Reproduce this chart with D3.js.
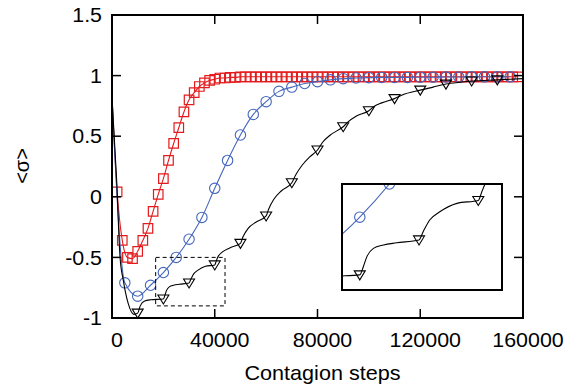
<!DOCTYPE html>
<html>
<head>
<meta charset="utf-8">
<script src="https://cdn.jsdelivr.net/npm/d3@7"></script>
<style>
  body { margin: 0; background: #fff; }
  text { font-family: "Liberation Sans", Arial, Helvetica, sans-serif; }
</style>
</head>
<body>
<div id="chart"></div>
<script>
// data
var xTicks = [0, 40000, 80000, 120000, 160000];
var yTicks = [-1, -0.5, 0, 0.5, 1, 1.5];
var startValue = 0.82; // all curves start here at step 0

// red squares, every 2000 steps
var redSteps = d3.range(2000, 160000, 2000);
var redValues = [
  0.04, -0.36, -0.50, -0.51, -0.45, -0.36, -0.26, -0.12, 0.02, 0.15,
  0.30, 0.44, 0.57, 0.70, 0.80, 0.86, 0.91, 0.94, 0.96, 0.97,
  0.98, 0.98, 0.985, 0.985, 0.99, 0.99, 0.99, 0.99, 0.99, 0.99,
  0.99, 0.99, 0.99, 0.99, 0.99, 0.99, 0.99, 0.99, 0.99, 0.99,
  0.99, 0.99, 0.99, 0.99, 0.99, 0.99, 0.99, 0.99, 0.99, 0.99,
  0.99, 0.99, 0.99, 0.99, 0.99, 0.99, 0.99, 0.99, 0.99, 0.99,
  0.99, 0.99, 0.99, 0.99, 0.99, 0.99, 0.99, 0.99, 0.99, 0.99,
  0.99, 0.99, 0.99, 0.99, 0.99, 0.99, 0.99, 0.99, 0.99
];

// blue circles, every 5000 steps
var blueSteps = d3.range(5000, 160000, 5000);
var blueValues = [
  -0.71, -0.82, -0.73, -0.625, -0.50, -0.35, -0.17, 0.07, 0.30, 0.51,
  0.68, 0.785, 0.87, 0.905, 0.935, 0.95, 0.965, 0.975, 0.98, 0.983,
  0.985, 0.985, 0.985, 0.987, 0.987, 0.988, 0.988, 0.99, 0.99, 0.99, 0.99
];

// black triangles, every 10000 steps
var blackSteps = d3.range(10000, 160000, 10000);
var blackValues = [
  -0.96, -0.843, -0.711, -0.562, -0.384, -0.158, 0.116, 0.386, 0.578, 0.71,
  0.81, 0.88, 0.93, 0.955, 0.965
];

// black line (stepwise shape, visible in the inset)
var blackLineSteps = [
  0, 1800, 3100, 4400, 6300, 8500, 10000, 11000, 12500, 15000,
  20000, 20600, 21200, 22300, 24000, 26200, 30000, 30700, 31800, 33500,
  36400, 40000, 40600, 41200, 43000, 46000, 50000, 51000, 53000, 56000,
  60000, 61000, 63000, 66000, 70000, 71500, 74000, 77000, 80000, 82000,
  85000, 90000, 92000, 95000, 100000, 102000, 105000, 110000, 113000, 120000,
  125000, 130000, 140000, 150000, 160000
];
var blackLineValues = [
  0.82, 0.14, -0.49, -0.69, -0.88, -0.97, -0.96, -0.90, -0.862, -0.85,
  -0.843, -0.812, -0.774, -0.743, -0.73, -0.722, -0.711, -0.68, -0.636, -0.605,
  -0.573, -0.562, -0.529, -0.497, -0.455, -0.42, -0.384, -0.33, -0.26, -0.21,
  -0.158, -0.10, -0.02, 0.05, 0.116, 0.18, 0.26, 0.33, 0.386, 0.45,
  0.51, 0.578, 0.62, 0.665, 0.71, 0.745, 0.775, 0.81, 0.84, 0.88,
  0.905, 0.93, 0.955, 0.965, 0.975
];

// inset window (dashed box)
var insetX = [17000, 44000];
var insetY = [-0.9, -0.5];

var width = 574, height = 389;
var margin = { top: 15, right: 51, bottom: 71, left: 112 };
var red = "#e41a1c", blue = "#4466bb";

var x = d3.scaleLinear().domain([0, 160000]).range([margin.left, width - margin.right]);
var y = d3.scaleLinear().domain([-1, 1.5]).range([height - margin.bottom, margin.top]);

var svg = d3.select("#chart").append("svg")
  .attr("width", width).attr("height", height);

function pairs(steps, values) {
  return steps.map(function (s, i) { return [s, values[i]]; });
}
var redLine = [[0, startValue]].concat(pairs(redSteps, redValues));
var blueLine = [[0, startValue]].concat(pairs(blueSteps, blueValues));
var blackLine = pairs(blackLineSteps, blackLineValues);

function squarePath(s) {
  var h = s / 2;
  return "M" + -h + "," + -h + "h" + s + "v" + s + "h" + -s + "Z";
}
var triPath = "M-5.5,-4 L5.5,-4 L0,5 Z";

function drawSeries(g, xs, ys) {
  var line = d3.line().x(function (d) { return xs(d[0]); }).y(function (d) { return ys(d[1]); })
    .curve(d3.curveMonotoneX);

  g.append("path").datum(redLine).attr("d", line)
    .attr("fill", "none").attr("stroke", red).attr("stroke-width", 1.1);
  g.selectAll(".sq").data(pairs(redSteps, redValues)).join("path")
    .attr("class", "sq")
    .attr("transform", function (d) { return "translate(" + xs(d[0]) + "," + ys(d[1]) + ")"; })
    .attr("d", squarePath(9.5)).attr("fill", "none").attr("stroke", red).attr("stroke-width", 1.2);

  g.append("path").datum(blueLine).attr("d", line)
    .attr("fill", "none").attr("stroke", blue).attr("stroke-width", 1.1);
  g.selectAll(".ci").data(pairs(blueSteps, blueValues)).join("circle")
    .attr("class", "ci")
    .attr("cx", function (d) { return xs(d[0]); }).attr("cy", function (d) { return ys(d[1]); })
    .attr("r", 5.2).attr("fill", "none").attr("stroke", blue).attr("stroke-width", 1.1);

  g.append("path").datum(blackLine).attr("d", line)
    .attr("fill", "none").attr("stroke", "#000").attr("stroke-width", 1.1);
  g.selectAll(".tr").data(pairs(blackSteps, blackValues)).join("path")
    .attr("class", "tr")
    .attr("transform", function (d) { return "translate(" + xs(d[0]) + "," + ys(d[1]) + ")"; })
    .attr("d", triPath).attr("fill", "none").attr("stroke", "#000").attr("stroke-width", 1.1);
}

var plot = svg.append("g");
drawSeries(plot, x, y);

// dashed box marking the inset region
svg.append("rect")
  .attr("x", x(insetX[0])).attr("y", y(insetY[1]))
  .attr("width", x(insetX[1]) - x(insetX[0]))
  .attr("height", y(insetY[0]) - y(insetY[1]))
  .attr("fill", "none").attr("stroke", "#000").attr("stroke-width", 1)
  .attr("stroke-dasharray", "4,3");

// frame and inward ticks on all four sides
var x0 = x.range()[0], x1 = x.range()[1], y0 = y.range()[0], y1 = y.range()[1];
var axes = svg.append("g").attr("stroke", "#000").attr("stroke-width", 1.5);
xTicks.forEach(function (t) {
  axes.append("line").attr("x1", x(t)).attr("x2", x(t)).attr("y1", y0).attr("y2", y0 - 9);
  axes.append("line").attr("x1", x(t)).attr("x2", x(t)).attr("y1", y1).attr("y2", y1 + 9);
});
yTicks.forEach(function (t) {
  axes.append("line").attr("x1", x0).attr("x2", x0 + 9).attr("y1", y(t)).attr("y2", y(t));
  axes.append("line").attr("x1", x1).attr("x2", x1 - 9).attr("y1", y(t)).attr("y2", y(t));
});
svg.append("rect").attr("x", x0).attr("y", y1).attr("width", x1 - x0).attr("height", y0 - y1)
  .attr("fill", "none").attr("stroke", "#000").attr("stroke-width", 2);

// tick labels (the original font is a little wider, so stretch slightly)
svg.selectAll(".xl").data(xTicks).join("text")
  .attr("class", "xl")
  .attr("transform", function (d) { return "translate(" + (x(d) + 5) + "," + (y0 + 29) + ") scale(1.07,1)"; })
  .attr("text-anchor", "middle").attr("font-size", 20)
  .text(function (d) { return d; });
svg.selectAll(".yl").data(yTicks).join("text")
  .attr("class", "yl")
  .attr("transform", function (d) { return "translate(" + (x0 - 10) + "," + y(d) + ") scale(1.07,1)"; })
  .attr("dy", "0.36em").attr("text-anchor", "end").attr("font-size", 20)
  .text(function (d) { return d; });

svg.append("text").attr("transform", "translate(" + ((x0 + x1) / 2 + 5) + ",380) scale(1.08,1)")
  .attr("text-anchor", "middle").attr("font-size", 20).text("Contagion steps");
svg.append("text").attr("transform", "translate(29,166) rotate(-90)")
  .attr("text-anchor", "middle").attr("font-size", 20).text("<σ>");

// inset: same data, zoomed into the dashed box
var ib = { x: 342, y: 184, w: 160, h: 106 };
var xi = d3.scaleLinear().domain(insetX).range([ib.x, ib.x + ib.w]);
var yi = d3.scaleLinear().domain(insetY).range([ib.y + ib.h, ib.y]);
svg.append("clipPath").attr("id", "insetClip").append("rect")
  .attr("x", ib.x).attr("y", ib.y).attr("width", ib.w).attr("height", ib.h);
svg.append("rect").attr("x", ib.x).attr("y", ib.y).attr("width", ib.w).attr("height", ib.h)
  .attr("fill", "#fff");
var inset = svg.append("g").attr("clip-path", "url(#insetClip)");
drawSeries(inset, xi, yi);
svg.append("rect").attr("x", ib.x).attr("y", ib.y).attr("width", ib.w).attr("height", ib.h)
  .attr("fill", "none").attr("stroke", "#000").attr("stroke-width", 2);
</script>
</body>
</html>
